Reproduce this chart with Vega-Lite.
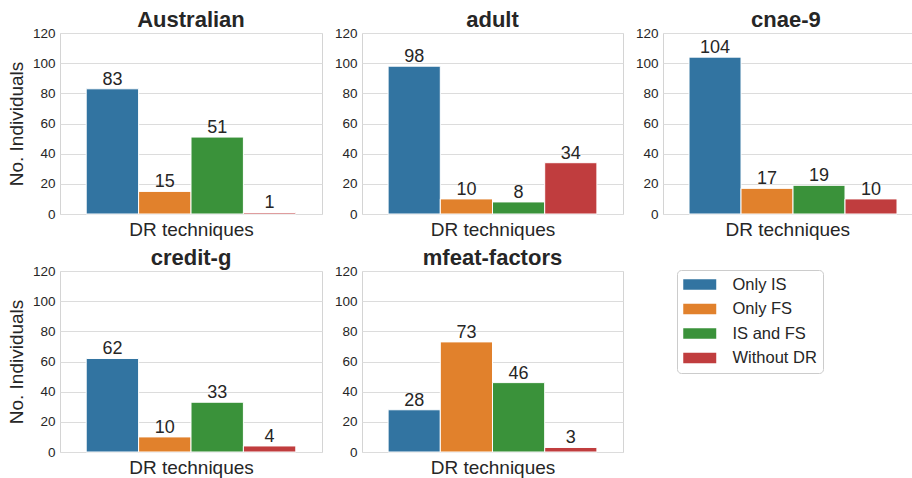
{
  "$schema": "https://vega.github.io/schema/vega-lite/v6.json",
  "padding": {"left": 6, "top": 8, "right": 0, "bottom": 0},
  "background": "white",
  "data": {"values": [
    {"dataset": "Australian", "technique": "Only IS", "count": 83},
    {"dataset": "Australian", "technique": "Only FS", "count": 15},
    {"dataset": "Australian", "technique": "IS and FS", "count": 51},
    {"dataset": "Australian", "technique": "Without DR", "count": 1},
    {"dataset": "adult", "technique": "Only IS", "count": 98},
    {"dataset": "adult", "technique": "Only FS", "count": 10},
    {"dataset": "adult", "technique": "IS and FS", "count": 8},
    {"dataset": "adult", "technique": "Without DR", "count": 34},
    {"dataset": "cnae-9", "technique": "Only IS", "count": 104},
    {"dataset": "cnae-9", "technique": "Only FS", "count": 17},
    {"dataset": "cnae-9", "technique": "IS and FS", "count": 19},
    {"dataset": "cnae-9", "technique": "Without DR", "count": 10},
    {"dataset": "credit-g", "technique": "Only IS", "count": 62},
    {"dataset": "credit-g", "technique": "Only FS", "count": 10},
    {"dataset": "credit-g", "technique": "IS and FS", "count": 33},
    {"dataset": "credit-g", "technique": "Without DR", "count": 4},
    {"dataset": "mfeat-factors", "technique": "Only IS", "count": 28},
    {"dataset": "mfeat-factors", "technique": "Only FS", "count": 73},
    {"dataset": "mfeat-factors", "technique": "IS and FS", "count": 46},
    {"dataset": "mfeat-factors", "technique": "Without DR", "count": 3}
  ]},
  "columns": 3,
  "spacing": {"column": 10, "row": 6},
  "concat": [
    {
      "width": 262, "height": 181,
      "title": {"text": "Australian"},
      "transform": [{"filter": "datum.dataset === 'Australian'"}],
      "encoding": {
        "x": {"field": "technique", "type": "nominal", "sort": ["Only IS", "Only FS", "IS and FS", "Without DR"], "scale": {"paddingInner": 0, "paddingOuter": 0.5}, "axis": {"title": "DR techniques", "labels": false, "ticks": false, "domain": false, "grid": false}},
        "y": {"field": "count", "type": "quantitative", "scale": {"domain": [0, 120]}, "axis": {"title": "No. Individuals", "values": [0, 20, 40, 60, 80, 100, 120]}}
      },
      "layer": [
        {"mark": {"type": "bar", "stroke": "white", "strokeWidth": 1}, "encoding": {"color": {"field": "technique", "type": "nominal", "sort": ["Only IS", "Only FS", "IS and FS", "Without DR"], "scale": {"domain": ["Only IS", "Only FS", "IS and FS", "Without DR"], "range": ["#3274a1", "#e1812c", "#3a923a", "#c03d3e"]}, "legend": {"title": null}}}},
        {"mark": {"type": "text", "baseline": "alphabetic", "dy": -4, "fontSize": 18, "color": "#262626", "font": "Liberation Sans"}, "encoding": {"text": {"field": "count", "type": "quantitative"}}}
      ]
    },
    {
      "width": 261, "height": 181,
      "title": {"text": "adult"},
      "transform": [{"filter": "datum.dataset === 'adult'"}],
      "encoding": {
        "x": {"field": "technique", "type": "nominal", "sort": ["Only IS", "Only FS", "IS and FS", "Without DR"], "scale": {"paddingInner": 0, "paddingOuter": 0.5}, "axis": {"title": "DR techniques", "labels": false, "ticks": false, "domain": false, "grid": false}},
        "y": {"field": "count", "type": "quantitative", "scale": {"domain": [0, 120]}, "axis": {"title": null, "values": [0, 20, 40, 60, 80, 100, 120]}}
      },
      "layer": [
        {"mark": {"type": "bar", "stroke": "white", "strokeWidth": 1}, "encoding": {"color": {"field": "technique", "type": "nominal", "sort": ["Only IS", "Only FS", "IS and FS", "Without DR"]}}},
        {"mark": {"type": "text", "baseline": "alphabetic", "dy": -4, "fontSize": 18, "color": "#262626", "font": "Liberation Sans"}, "encoding": {"text": {"field": "count", "type": "quantitative"}}}
      ]
    },
    {
      "width": 251, "height": 181,
      "title": {"text": "cnae-9", "anchor": "start", "dx": 88},
      "transform": [{"filter": "datum.dataset === 'cnae-9'"}],
      "encoding": {
        "x": {"field": "technique", "type": "nominal", "sort": ["Only IS", "Only FS", "IS and FS", "Without DR"], "scale": {"paddingInner": 0, "paddingOuter": 0.4135, "align": 0.605}, "axis": {"title": "DR techniques", "labels": false, "ticks": false, "domain": false, "grid": false, "titleAnchor": "start", "titleX": 62}},
        "y": {"field": "count", "type": "quantitative", "scale": {"domain": [0, 120]}, "axis": {"title": null, "values": [0, 20, 40, 60, 80, 100, 120]}}
      },
      "layer": [
        {"mark": {"type": "bar", "stroke": "white", "strokeWidth": 1}, "encoding": {"color": {"field": "technique", "type": "nominal", "sort": ["Only IS", "Only FS", "IS and FS", "Without DR"]}}},
        {"mark": {"type": "text", "baseline": "alphabetic", "dy": -4, "fontSize": 18, "color": "#262626", "font": "Liberation Sans"}, "encoding": {"text": {"field": "count", "type": "quantitative"}}}
      ]
    },
    {
      "width": 262, "height": 181,
      "title": {"text": "credit-g"},
      "transform": [{"filter": "datum.dataset === 'credit-g'"}],
      "encoding": {
        "x": {"field": "technique", "type": "nominal", "sort": ["Only IS", "Only FS", "IS and FS", "Without DR"], "scale": {"paddingInner": 0, "paddingOuter": 0.5}, "axis": {"title": "DR techniques", "labels": false, "ticks": false, "domain": false, "grid": false}},
        "y": {"field": "count", "type": "quantitative", "scale": {"domain": [0, 120]}, "axis": {"title": "No. Individuals", "values": [0, 20, 40, 60, 80, 100, 120]}}
      },
      "layer": [
        {"mark": {"type": "bar", "stroke": "white", "strokeWidth": 1}, "encoding": {"color": {"field": "technique", "type": "nominal", "sort": ["Only IS", "Only FS", "IS and FS", "Without DR"]}}},
        {"mark": {"type": "text", "baseline": "alphabetic", "dy": -4, "fontSize": 18, "color": "#262626", "font": "Liberation Sans"}, "encoding": {"text": {"field": "count", "type": "quantitative"}}}
      ]
    },
    {
      "width": 261, "height": 181,
      "title": {"text": "mfeat-factors"},
      "transform": [{"filter": "datum.dataset === 'mfeat-factors'"}],
      "encoding": {
        "x": {"field": "technique", "type": "nominal", "sort": ["Only IS", "Only FS", "IS and FS", "Without DR"], "scale": {"paddingInner": 0, "paddingOuter": 0.5}, "axis": {"title": "DR techniques", "labels": false, "ticks": false, "domain": false, "grid": false}},
        "y": {"field": "count", "type": "quantitative", "scale": {"domain": [0, 120]}, "axis": {"title": null, "values": [0, 20, 40, 60, 80, 100, 120]}}
      },
      "layer": [
        {"mark": {"type": "bar", "stroke": "white", "strokeWidth": 1}, "encoding": {"color": {"field": "technique", "type": "nominal", "sort": ["Only IS", "Only FS", "IS and FS", "Without DR"]}}},
        {"mark": {"type": "text", "baseline": "alphabetic", "dy": -4, "fontSize": 18, "color": "#262626", "font": "Liberation Sans"}, "encoding": {"text": {"field": "count", "type": "quantitative"}}}
      ]
    }
  ],
  "config": {
    "font": "Liberation Sans",
    "view": {"stroke": "#d4d4d4", "strokeWidth": 1},
    "title": {"fontSize": 22, "fontWeight": "bold", "color": "#262626", "font": "Liberation Sans", "offset": -6, "baseline": "alphabetic", "frame": "group"},
    "axis": {"labelFont": "Liberation Sans", "titleFont": "Liberation Sans", "labelFontSize": 13.5, "titleFontSize": 19, "titleFontWeight": "normal", "labelColor": "#262626", "titleColor": "#262626", "gridColor": "#dcdcdc", "gridWidth": 1, "domain": false, "ticks": false, "labelPadding": 5, "titlePadding": 6},
    "axisX": {"titlePadding": 6},
    "legend": {"orient": "none", "legendX": 617, "legendY": 237, "labelFont": "Liberation Sans", "labelFontSize": 16.5, "labelColor": "#262626", "symbolType": "M-1,-0.64H3V0.64H-1Z", "symbolSize": 272, "symbolOffset": 0, "symbolStrokeWidth": 0, "labelOffset": 32.5, "rowPadding": 7.5, "padding": 6, "strokeColor": "#cccccc", "cornerRadius": 4, "fillColor": "white"}
  }
}
